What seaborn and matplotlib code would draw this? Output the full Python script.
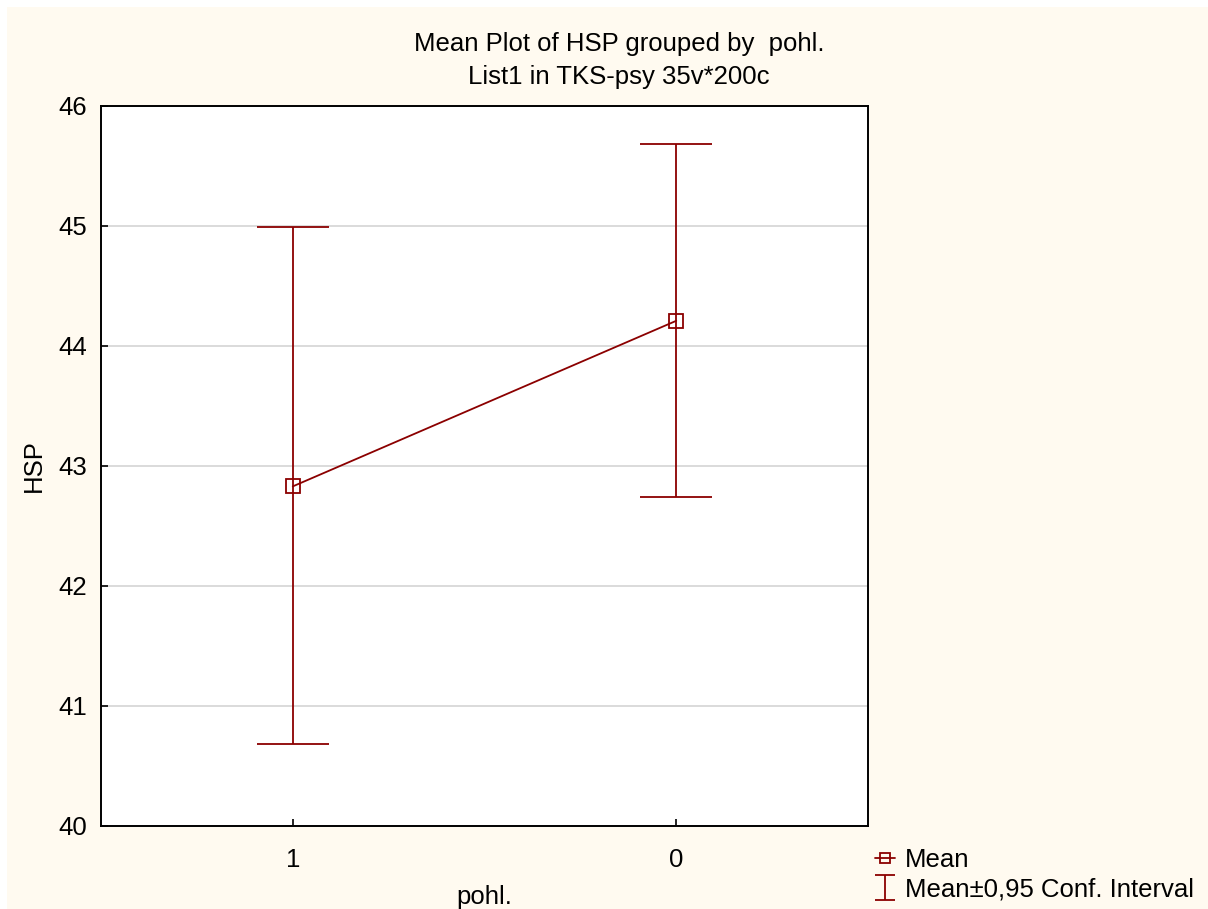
import matplotlib
matplotlib.use("Agg")
import matplotlib.pyplot as plt
from matplotlib.patches import Rectangle
import numpy as np
import pandas as pd
import seaborn as sns

# data
groups = ["1", "0"]
means = [42.83, 44.21]
ci_low = [40.68, 42.74]
ci_high = [44.99, 45.68]

title = "Mean Plot of HSP grouped by  pohl.\nList1 in TKS-psy 35v*200c"
red = "#8B0000"
fs = 18.5

sns.set_theme(style="white")
plt.rcParams["font.family"] = ["Liberation Sans", "DejaVu Sans"]

W, H = 1208, 909
fig = plt.figure(figsize=(W / 100, H / 100), dpi=100, facecolor="white")
fig.patches.append(Rectangle((7 / W, 0), 1, 1 - 7 / H, transform=fig.transFigure,
                             facecolor="#FFFAF0", edgecolor="none", zorder=-10))

ax = fig.add_axes([101 / W, 1 - 826 / H, 767 / W, 720 / H])
ax.set_facecolor("white")

df = pd.DataFrame({"pos": np.arange(len(groups)), "mean": means})
yerr = [np.array(means) - np.array(ci_low), np.array(ci_high) - np.array(means)]

# mean line first so it is ax.lines[0]
sns.lineplot(data=df, x="pos", y="mean", ax=ax, color=red, lw=1.3,
             marker="s", markersize=9.5, markerfacecolor="none",
             markeredgecolor=red, markeredgewidth=1.3, zorder=4,
             legend=False)
mean_line = ax.lines[0]

ax.errorbar(df["pos"], df["mean"], yerr=yerr, fmt="none", ecolor=red,
            elinewidth=1.3, capsize=26, capthick=1.3, zorder=3)

# legend proxy for the CI glyph (small caps)
eb_proxy = ax.errorbar([np.nan], [np.nan], yerr=[[0.1], [0.1]], fmt="none",
                       ecolor=red, elinewidth=1.3, capsize=7, capthick=1.3)

ax.set_xlim(-0.5, 1.5)
ax.set_ylim(40, 46)
ax.set_xticks(df["pos"])
ax.set_xticklabels(groups)
ax.set_yticks(range(40, 47))
ax.yaxis.grid(True, color="#d4d4d4", lw=1.2)
ax.xaxis.grid(False)
ax.tick_params(direction="in", length=5, width=1.2, colors="black",
               labelsize=fs, left=True, bottom=True)
ax.tick_params(axis="y", pad=10)
ax.tick_params(axis="x", pad=16)
for s in ax.spines.values():
    s.set_color("black")
    s.set_linewidth(1.4)

ax.set_xlabel("pohl.", fontsize=fs, labelpad=9, color="black")
ax.set_ylabel("HSP", fontsize=fs, labelpad=9, color="black")

fig.text(619 / W, 1 - 32 / H, title, ha="center", va="top", fontsize=fs,
         linespacing=1.45, color="black")

fig.legend([mean_line, eb_proxy], ["Mean", "Mean\u00b10,95 Conf. Interval"],
           loc="upper left", bbox_to_anchor=(865 / W, 1 - 838 / H),
           frameon=False, fontsize=fs, handlelength=0.75, handletextpad=0.4,
           labelspacing=0.2, borderaxespad=0, markerscale=0.75,
           labelcolor="black")

fig.savefig("out.png", dpi=100, facecolor=fig.get_facecolor())
